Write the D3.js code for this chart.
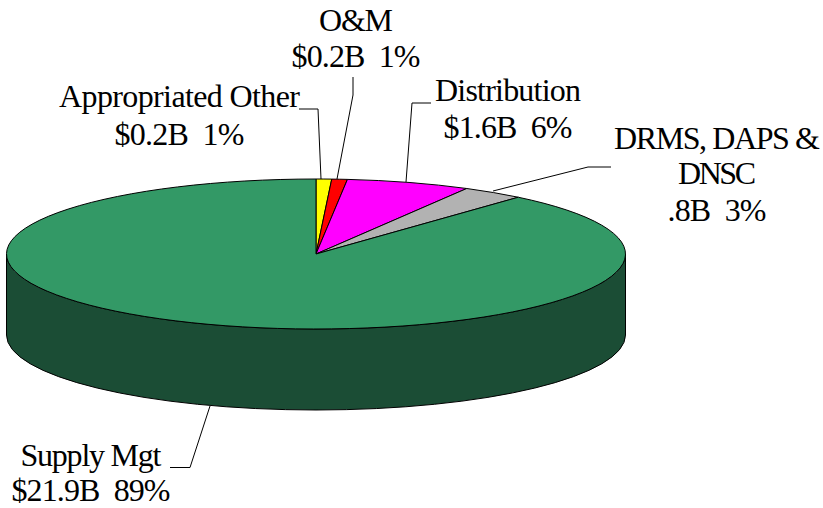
<!DOCTYPE html>
<html>
<head>
<meta charset="utf-8">
<script src="https://cdn.jsdelivr.net/npm/d3@7"></script>
<style>
body { margin: 0; background: #fff; }
text { font-family: "Liberation Serif", serif; font-size: 32px; fill: #000; }
</style>
</head>
<body>
<div id="chart"></div>
<script>
// budget in $B, going clockwise from 12 o'clock
var categories = ["Appropriated Other", "O&M", "Distribution", "DRMS, DAPS & DNSC", "Supply Mgt"];
var billions = [0.2, 0.2, 1.6, 0.8, 21.9];
var colors = ["#ffff00", "#ff0000", "#ff00ff", "#b2b2b2", "#339966"];
var sideColor = "#1b4d35";

var W = 823, H = 508,
    cx = 316, cy = 254,
    rx = 309.5, ry = 75,
    depth = 81;

var svg = d3.select("#chart").append("svg")
    .attr("width", W)
    .attr("height", H);

var pie = d3.pie().sort(null)(billions);

// d3 pie angle -> point on the squashed ellipse
function pt(a) {
    return [cx + rx * Math.sin(a), cy - ry * Math.cos(a)];
}
function slicePath(d) {
    var s = pt(d.startAngle), e = pt(d.endAngle);
    var large = d.endAngle - d.startAngle > Math.PI ? 1 : 0;
    return "M" + cx + "," + cy + "L" + s + "A" + rx + "," + ry + " 0 " + large + " 1 " + e + "Z";
}

// wall of the disc
svg.append("path")
    .attr("d", "M" + (cx - rx) + "," + cy +
        "A" + rx + "," + ry + " 0 0 0 " + (cx + rx) + "," + cy +
        "V" + (cy + depth) +
        "A" + rx + "," + ry + " 0 0 1 " + (cx - rx) + "," + (cy + depth) + "Z")
    .attr("fill", sideColor)
    .attr("stroke", "#000")
    .attr("stroke-width", 1);

svg.selectAll("path.slice")
    .data(pie)
    .enter().append("path")
    .attr("class", "slice")
    .attr("d", slicePath)
    .attr("fill", function(d, i) { return colors[i]; })
    .attr("stroke", "#000")
    .attr("stroke-width", 1);

// leader lines
var leaders = [
    [[299, 109], [318, 109], [321, 179]],
    [[353, 77], [353, 95], [337, 179]],
    [[431, 103], [412, 103], [406, 182]],
    [[611, 167], [588, 167], [493, 191]],
    [[170, 467.5], [190, 467.5], [210, 406]]
];
svg.selectAll("path.leader")
    .data(leaders)
    .enter().append("path")
    .attr("class", "leader")
    .attr("d", d3.line())
    .attr("fill", "none")
    .attr("stroke", "#000")
    .attr("stroke-width", 1);

// w = ink width of each line, so the squeezed spacing of the original carries over
var labelLines = [
    { x: 179.5, y: [107, 145], w: [241, 130], t: ["Appropriated Other", "$0.2B  1%"] },
    { x: 356, y: [31, 67], w: [74, 129], t: ["O&M", "$0.2B  1%"] },
    { x: 508, y: [101, 138], w: [146, 129], t: ["Distribution", "$1.6B  6%"] },
    { x: 717, y: [149, 184, 221], w: [206, 78, 99], t: ["DRMS, DAPS &", "DNSC", ".8B  3%"] },
    { x: 91, y: [466, 501], w: [141, 159], t: ["Supply Mgt", "$21.9B  89%"] }
];
labelLines.forEach(function(l) {
    l.t.forEach(function(s, i) {
        svg.append("text")
            .attr("x", l.x)
            .attr("y", l.y[i])
            .attr("text-anchor", "middle")
            .attr("textLength", l.w[i])
            .attr("lengthAdjust", "spacing")
            .style("white-space", "pre")
            .text(s);
    });
});
</script>
</body>
</html>
